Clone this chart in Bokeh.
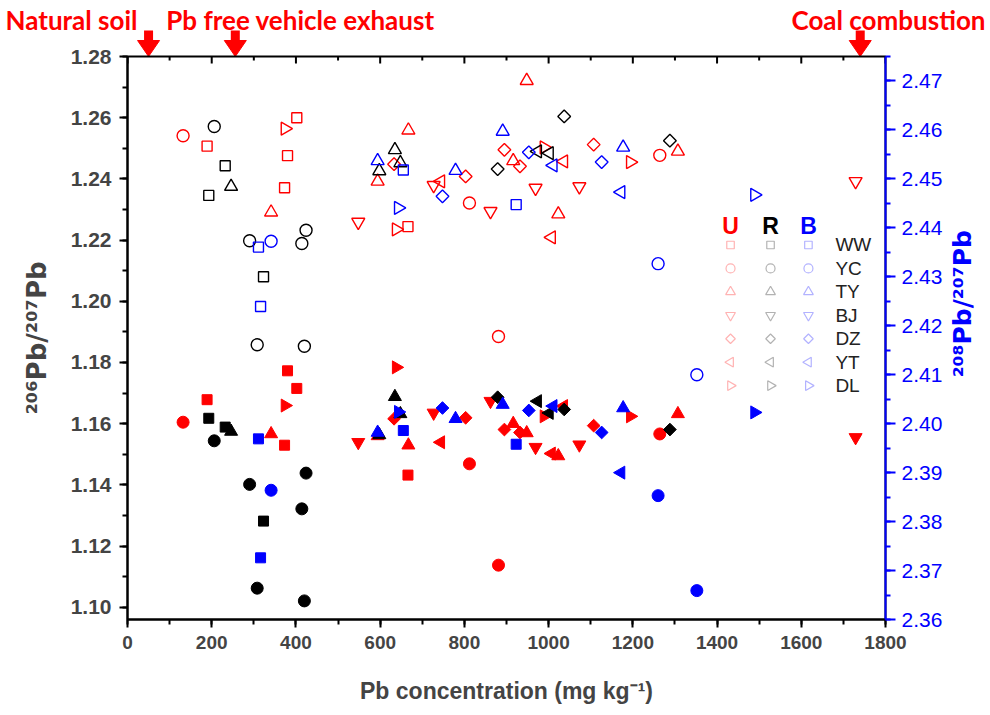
import math

from bokeh.plotting import figure
from bokeh.layouts import column, row
from bokeh.models import (ColumnDataSource, Range1d, LinearAxis, SingleIntervalTicker,
                          NumeralTickFormatter)
from bokeh.core.properties import value
from bokeh.embed import file_html
from bokeh.resources import INLINE

# Sample groups (U, R, B) and their colours
groups = ["U", "R", "B"]
group_colors = ["#ff0000", "#000000", "#0000ff"]

# Sampling sites, in legend order
sites = ["WW", "YC", "TY", "BJ", "DZ", "YT", "DL"]

# One entry per soil sample: group, site, Pb concentration (mg/kg),
# 206Pb/207Pb (left axis, open symbols) and 208Pb/207Pb (right axis, filled symbols)
sample_group = (
    ["U", "U", "U", "U", "U",
     "U", "U", "U", "U",
     "U", "U", "U", "U", "U", "U", "U",
     "U", "U", "U", "U", "U", "U",
     "U", "U", "U", "U", "U",
     "U", "U", "U",
     "U", "U", "U", "U",
     "R", "R", "R",
     "R", "R", "R", "R", "R", "R",
     "R", "R", "R", "R",
     "R", "R", "R",
     "R", "R",
     "B", "B", "B", "B",
     "B", "B", "B",
     "B", "B", "B", "B",
     "B", "B", "B",
     "B", "B",
     "B", "B"]
)
sample_site = (
    ["WW", "WW", "WW", "WW", "WW",
     "YC", "YC", "YC", "YC",
     "TY", "TY", "TY", "TY", "TY", "TY", "TY",
     "BJ", "BJ", "BJ", "BJ", "BJ", "BJ",
     "DZ", "DZ", "DZ", "DZ", "DZ",
     "YT", "YT", "YT",
     "DL", "DL", "DL", "DL",
     "WW", "WW", "WW",
     "YC", "YC", "YC", "YC", "YC", "YC",
     "TY", "TY", "TY", "TY",
     "DZ", "DZ", "DZ",
     "YT", "YT",
     "WW", "WW", "WW", "WW",
     "YC", "YC", "YC",
     "TY", "TY", "TY", "TY",
     "DZ", "DZ", "DZ",
     "YT", "YT",
     "DL", "DL"]
)
pb_conc = [
    189, 402, 380, 373, 666,
    132, 812, 881, 1264,
    341, 667, 594, 916, 948, 1023, 1307,
    548, 727, 862, 969, 1073, 1729,
    633, 803, 895, 932, 1107,
    744, 1007, 1036,
    374, 638, 989, 1194,
    193, 232, 323,
    206, 290, 424, 414, 308, 420,
    246, 635, 648, 598,
    879, 1037, 1288,
    974, 1002,
    311, 316, 655, 923,
    341, 1260, 1352,
    594, 779, 891, 1177,
    748, 953, 1126,
    1011, 1172,
    643, 1489,
]
pb206_207 = [
    1.2507, 1.2600, 1.2476, 1.2371, 1.2244,
    1.2541, 1.2321, 1.1885, 1.2477,
    1.2291, 1.2559, 1.2392, 1.2459, 1.2721, 1.2285, 1.2490,
    1.2259, 1.2379, 1.2294, 1.2370, 1.2375, 1.2392,
    1.2448, 1.2408, 1.2495, 1.2441, 1.2512,
    1.2392, 1.2209, 1.2457,
    1.2564, 1.2235, 1.2503, 1.2455,
    1.2346, 1.2443, 1.2080,
    1.2571, 1.2198, 1.2232, 1.2189, 1.1858, 1.1853,
    1.2375, 1.2495, 1.2452, 1.2426,
    1.2432, 1.2604, 1.2525,
    1.2490, 1.2484,
    1.2177, 1.1983, 1.2429, 1.2316,
    1.2196, 1.2123, 1.1760,
    1.2459, 1.2427, 1.2555, 1.2503,
    1.2343, 1.2487, 1.2455,
    1.2444, 1.2357,
    1.2305, 1.2348,
]
pb208_207 = [
    2.4049, 2.4072, 2.4108, 2.3956, 2.3895,
    2.4003, 2.3918, 2.3711, 2.3979,
    2.3979, 2.3956, 2.3975, 2.4000, 2.3981, 2.3934, 2.4020,
    2.3962, 2.4022, 2.4046, 2.3952, 2.3957, 2.3972,
    2.4010, 2.4012, 2.3988, 2.3982, 2.3996,
    2.3962, 2.3939, 2.4036,
    2.4037, 2.4115, 2.4015, 2.4015,
    2.4011, 2.3993, 2.3801,
    2.3965, 2.3876, 2.3899, 2.3826, 2.3664, 2.3638,
    2.3984, 2.4055, 2.4020, 2.3977,
    2.4054, 2.4029, 2.3988,
    2.4046, 2.4022,
    2.3969, 2.3726, 2.3986, 2.3958,
    2.3864, 2.3853, 2.3659,
    2.3982, 2.4010, 2.4039, 2.4032,
    2.4032, 2.4027, 2.3982,
    2.4036, 2.3900,
    2.4024, 2.4023,
]

# Pb source end members marked above the plot (Pb concentration, mg/kg)
sources = ["Natural soil", "Pb free vehicle exhaust", "Coal combustion"]
source_pb = [50, 256, 1740]

# Symbol per site: marker type, rotation and size
site_marker = {"WW": "square", "YC": "circle", "TY": "triangle", "BJ": "inverted_triangle",
               "DZ": "square", "YT": "triangle", "DL": "triangle"}
site_angle = {"WW": 0.0, "YC": 0.0, "TY": 0.0, "BJ": 0.0,
              "DZ": math.pi / 4, "YT": math.pi / 2, "DL": -math.pi / 2}
site_size = {"WW": 10, "YC": 12, "TY": 13, "BJ": 13, "DZ": 9, "YT": 13, "DL": 13}
color_of = dict(zip(groups, group_colors))

FONT = "Liberation Sans"
SUPER = "DejaVu Sans"
RED, BLUE = "#ff0000", "#0000ff"

# Page layout (pixels)
PAGE_W, PAGE_H = 990, 715
TOP_H = 56            # strip above the plot with the source labels
OVERLAP = 14          # the plot's top border slides under that strip
RIGHT_W = 45          # strip right of the plot with the 208/207 title
BORDER_L, BORDER_R, BORDER_T, BORDER_B = 127, 60, OVERLAP, 96
MAIN_H = PAGE_H - TOP_H + OVERLAP
X_MIN, X_MAX = 0, 1800
Y_MIN, Y_MAX = 1.096, 1.28
FRAME_W = PAGE_W - RIGHT_W - BORDER_L - BORDER_R
FRAME_H = MAIN_H - BORDER_T - BORDER_B
px_per_x = FRAME_W / (X_MAX - X_MIN)
y_per_px = (Y_MAX - Y_MIN) / FRAME_H

# ---- main plot -------------------------------------------------------------
p = figure(width=PAGE_W - RIGHT_W, height=MAIN_H, output_backend="svg",
           toolbar_location=None,
           x_range=Range1d(X_MIN, X_MAX), y_range=Range1d(Y_MIN, Y_MAX),
           min_border_left=BORDER_L, min_border_right=BORDER_R,
           min_border_top=BORDER_T, min_border_bottom=BORDER_B)
p.extra_y_ranges = {"r208": Range1d(2.36, 2.475)}
p.xgrid.visible = False
p.ygrid.visible = False
p.outline_line_color = "black"
p.outline_line_width = 2
p.background_fill_color = "white"
p.border_fill_color = None

# Bottom axis
xa = p.xaxis[0]
xa.ticker = SingleIntervalTicker(interval=200, num_minor_ticks=2)
xa.formatter = NumeralTickFormatter(format="0")
xa.axis_label = "Pb concentration (mg kg\u207b\u00b9)"
xa.axis_label_text_font = FONT
xa.axis_label_text_font_size = "23px"
xa.axis_label_text_font_style = "bold"
xa.axis_label_standoff = 26
xa.major_label_text_font = FONT
xa.major_label_text_font_size = "19px"
xa.major_label_text_font_style = "bold"
xa.major_label_standoff = 8
xa.axis_line_width = 2
xa.major_tick_in = 0
xa.major_tick_out = 8
xa.minor_tick_in = 0
xa.minor_tick_out = 5
xa.major_tick_line_width = 2
xa.minor_tick_line_width = 2

# Left axis (206Pb/207Pb)
ya = p.yaxis[0]
ya.ticker = SingleIntervalTicker(interval=0.02, num_minor_ticks=2)
ya.formatter = NumeralTickFormatter(format="0.00")
ya.axis_label = "\u00b2\u2070\u2076Pb/\u00b2\u2070\u2077Pb"
ya.axis_label_text_font = SUPER
ya.axis_label_text_font_size = "26px"
ya.axis_label_text_font_style = "bold"
ya.axis_label_standoff = 16
ya.major_label_text_font = FONT
ya.major_label_text_font_size = "21px"
ya.major_label_text_font_style = "bold"
ya.major_label_standoff = 8
ya.axis_line_width = 2
ya.major_tick_in = 0
ya.major_tick_out = 8
ya.minor_tick_in = 0
ya.minor_tick_out = 5
ya.major_tick_line_width = 2
ya.minor_tick_line_width = 2

# Right axis (208Pb/207Pb)
ra = LinearAxis(y_range_name="r208",
                ticker=SingleIntervalTicker(interval=0.01, num_minor_ticks=2),
                formatter=NumeralTickFormatter(format="0.00"),
                major_label_text_font=FONT, major_label_text_font_size="21px",
                major_label_text_color=BLUE, major_label_standoff=6,
                axis_line_color=BLUE, axis_line_width=2,
                major_tick_line_color=BLUE, minor_tick_line_color=BLUE,
                major_tick_line_width=2, minor_tick_line_width=2,
                major_tick_in=0, major_tick_out=10, minor_tick_in=0, minor_tick_out=5)
p.add_layout(ra, "right")

# Inward ticks along the top edge of the frame (every 100, longer every 200)
top_ticks = list(range(X_MIN, X_MAX + 1, 100))
top_len = [7 if tk % 200 == 0 else 4 for tk in top_ticks]
p.segment(x0=top_ticks, x1=top_ticks, y0=[Y_MAX] * len(top_ticks),
          y1=[Y_MAX - n * y_per_px for n in top_len], line_color="black", line_width=2)

# Samples: open symbols for 206/207, filled symbols for 208/207
for g in groups:
    idx = [i for i, gg in enumerate(sample_group) if gg == g]
    src = ColumnDataSource(dict(
        pb=[pb_conc[i] for i in idx],
        r206=[pb206_207[i] for i in idx],
        r208=[pb208_207[i] for i in idx],
        marker=[site_marker[sample_site[i]] for i in idx],
        angle=[site_angle[sample_site[i]] for i in idx],
        size=[site_size[sample_site[i]] for i in idx],
    ))
    c = color_of[g]
    p.scatter(x="pb", y="r206", marker="marker", angle="angle", size="size",
              line_color=c, fill_color=None, line_width=1.4, source=src)
    p.scatter(x="pb", y="r208", y_range_name="r208", marker="marker", angle="angle",
              size="size", line_color=c, fill_color=c, line_width=1, source=src)

# Legend block: faint symbols per group and site
leg_x = [1432, 1527, 1617]
leg_label_x = 1681
leg_top = 1.2184
leg_step = 0.00766
head_src = ColumnDataSource(dict(x=leg_x, y=[1.2245] * 3, text=groups, color=group_colors))
p.text(x="x", y="y", text="text", text_color="color", source=head_src,
       text_font=value(FONT), text_font_style="bold", text_font_size="23px",
       text_align="center", text_baseline="middle")
for k, s in enumerate(sites):
    yy = leg_top - k * leg_step
    lsrc = ColumnDataSource(dict(x=leg_x, y=[yy] * 3, color=group_colors))
    p.scatter(x="x", y="y", source=lsrc, marker=site_marker[s], angle=site_angle[s],
              size=site_size[s] * 0.75, line_color="color", fill_color=None,
              line_alpha=0.3, line_width=1.2)
    p.text(x=[leg_label_x], y=[yy], text=[s], text_font=value(FONT), text_font_size="19px",
           text_color="#222222", text_align="left", text_baseline="middle")

# ---- strip above: Pb sources with arrows onto the top axis ------------------
# x shares the main plot's scale; y counts pixels upward from the frame's top edge
top_x0 = X_MIN - BORDER_L / px_per_x
top_x1 = X_MIN + (PAGE_W - BORDER_L) / px_per_x
t = figure(width=PAGE_W, height=TOP_H, output_backend="svg", toolbar_location=None,
           x_range=Range1d(top_x0, top_x1), y_range=Range1d(0, TOP_H),
           x_axis_location=None, y_axis_location=None,
           min_border_left=0, min_border_right=0, min_border_top=0, min_border_bottom=0)
t.outline_line_color = None
t.xgrid.visible = False
t.ygrid.visible = False
t.background_fill_color = "white"
t.border_fill_color = "white"

label_style = dict(text_color=RED, text_font=value("Lato"), text_font_style="bold",
                   text_font_size="26px", text_baseline="middle")
t.text(x=[top_x0 + 5 / px_per_x], y=[37], text=[sources[0]], text_align="left", **label_style)
t.text(x=[top_x0 + 300 / px_per_x], y=[37], text=[sources[1]], text_align="center",
       **label_style)
t.text(x=[top_x1 - 5 / px_per_x], y=[37], text=[sources[2]], text_align="right",
       **label_style)

half_head = 11 / px_per_x
t.segment(x0=source_pb, x1=source_pb, y0=[14] * 3, y1=[26] * 3,
          line_color=RED, line_width=9)
t.patches(xs=[[x - half_head, x + half_head, x] for x in source_pb],
          ys=[[16, 16, 0]] * 3, fill_color=RED, line_color=RED, line_width=1)

# ---- strip right: 208Pb/207Pb axis title ------------------------------------
r = figure(width=RIGHT_W, height=MAIN_H, output_backend="svg",
           toolbar_location=None,
           x_range=Range1d(0, RIGHT_W), y_range=Range1d(0, MAIN_H),
           x_axis_location=None, y_axis_location=None,
           min_border_left=0, min_border_right=0, min_border_top=0, min_border_bottom=0)
r.outline_line_color = None
r.xgrid.visible = False
r.ygrid.visible = False
r.background_fill_color = None
r.border_fill_color = None
r.text(x=[17], y=[BORDER_B + FRAME_H / 2], text=["\u00b2\u2070\u2078Pb/\u00b2\u2070\u2077Pb"],
       angle=math.pi / 2, text_align="center", text_baseline="middle",
       text_color=BLUE, text_font=value(SUPER), text_font_size="25px",
       text_font_style="bold")

layout = column(t, row(p, r, spacing=0, margin=(-OVERLAP, 0, 0, 0)), spacing=0)
open("out.html", "w").write(file_html(layout, INLINE))
